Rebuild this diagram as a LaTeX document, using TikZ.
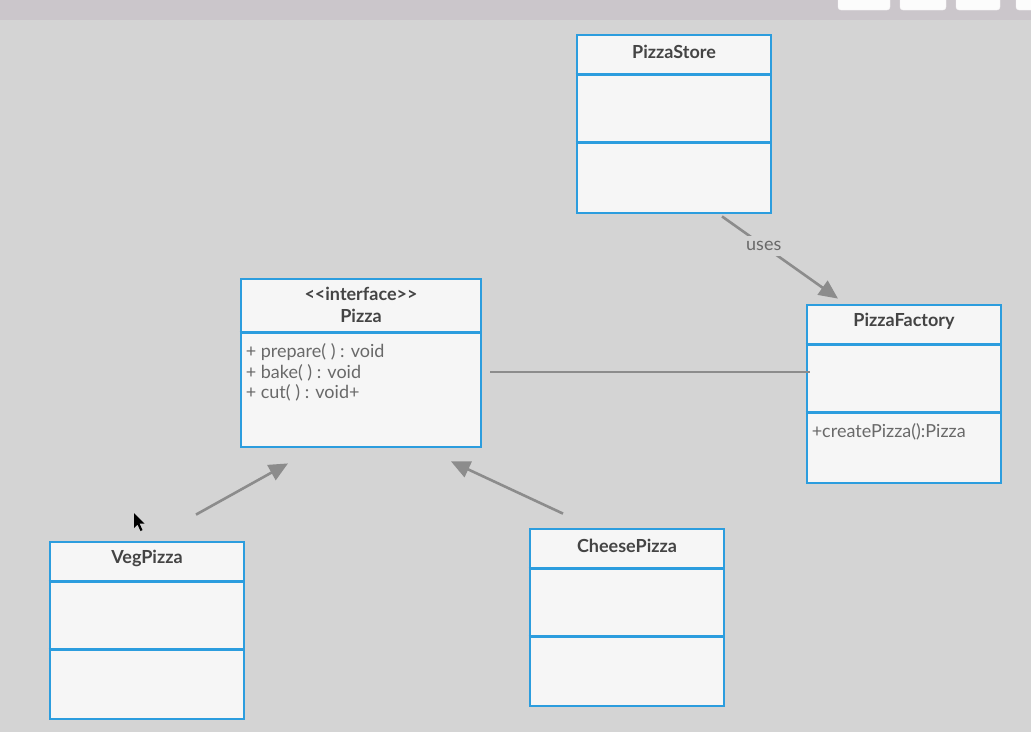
\documentclass[tikz,border=0pt]{standalone}
\usepackage{fontspec}
\setmainfont{Lato}
\usetikzlibrary{arrows.meta}

\definecolor{umlblue}{RGB}{44,157,222}
\definecolor{canvas}{RGB}{212,212,212}
\definecolor{topbar}{RGB}{203,198,203}
\definecolor{boxfill}{RGB}{246,246,246}
\definecolor{linkgray}{RGB}{140,140,140}
\definecolor{headink}{RGB}{68,68,68}
\definecolor{textink}{RGB}{105,105,105}

\tikzset{
  classbox/.style={draw=umlblue, line width=2.8pt, fill=boxfill, inner sep=0pt,
    minimum width=194pt, minimum height=177pt},
  divider/.style={draw=umlblue, line width=2.8pt},
  headtext/.style={text=headink, font=\fontsize{18}{22}\selectfont\bfseries, align=center},
  membertext/.style={text=textink, font=\fontsize{18}{20.5}\selectfont, anchor=north west,
    align=left, inner sep=0pt},
  link/.style={draw=linkgray, line width=2.6pt},
  realize/.style={link, -{Triangle[length=19pt, width=17pt]}}
}

\begin{document}
\begin{tikzpicture}[x=1pt, y=-1pt]
  \useasboundingbox (0,0) rectangle (1031,732);
  \clip (0,0) rectangle (1031,732);
  \fill[canvas] (0,0) rectangle (1031,732);
  \fill[topbar] (0,0) rectangle (1031,20);
  \foreach \a/\b in {838/890, 900/946, 956/1000, 1016/1060}
    \draw[fill=white!94!topbar, draw=white!80!topbar, rounded corners=3pt] (\a,-8) rectangle (\b,10);

  % classes
  \node[classbox, minimum height=178pt] (store) at (674,124) {};
  \node[classbox, minimum width=240pt, minimum height=168pt] (pizza) at (361,363) {};
  \node[classbox, minimum height=178pt] (factory) at (904,394) {};
  \node[classbox] (veg) at (147,630.5) {};
  \node[classbox] (cheese) at (627,617.5) {};

  \foreach \n in {store, factory, veg, cheese} {
    \draw[divider] ([yshift=-40.5pt]\n.north west) -- ([yshift=-40.5pt]\n.north east);
    \draw[divider] ([yshift=-109pt]\n.north west) -- ([yshift=-109pt]\n.north east);
  }
  \draw[divider] ([yshift=-55pt]pizza.north west) -- ([yshift=-55pt]pizza.north east);

  % titles
  \node[headtext] (storetitle) at ([yshift=-18pt]store.north) {PizzaStore};
  \node[headtext] (factorytitle) at ([yshift=-18pt]factory.north) {PizzaFactory};
  \node[headtext] (vegtitle) at ([yshift=-18pt]veg.north) {VegPizza};
  \node[headtext] (cheesetitle) at ([yshift=-18pt]cheese.north) {CheesePizza};
  \node[headtext, font=\fontsize{18}{22}\selectfont\bfseries] (pizzatitle) at ([yshift=-27pt]pizza.north)
    {{<}{<}interface{>}{>}\\Pizza};

  % members
  \node[membertext] (pizzaops) at ([shift={(6,66)}]pizza.north west)
    {+ prepare( ) : void\\+ bake( ) : void\\+ cut( ) : void+};
  \node[membertext] (factoryops) at ([shift={(6,120)}]factory.north west)
    {+createPizza():Pizza};

  % relations
  \draw[realize] ([shift={(48,2)}]store.south) -- ([shift={(-66,-5)}]factory.north)
    node[pos=0.36, fill=canvas, text=textink, inner sep=5pt,
      font=\fontsize{18}{20}\selectfont] (useslabel) {uses};
  \draw[link, shorten >=4pt] ([shift={(8,9)}]pizza.east) -- ([shift={(8,9)}]pizza.east -| factory.west);
  \draw[realize] ([shift={(49,-26)}]veg.north) -- ([shift={(-73,15)}]pizza.south);
  \draw[realize] ([shift={(-64,-14)}]cheese.north) -- ([shift={(90,13)}]pizza.south);

  % pointer
  \fill[black] (134,513) -- (134,528) -- (137.5,524.5) -- (140.5,531) -- (142.5,530)
    -- (139.5,523.5) -- (144.5,523.5) -- cycle;
\end{tikzpicture}
\end{document}
